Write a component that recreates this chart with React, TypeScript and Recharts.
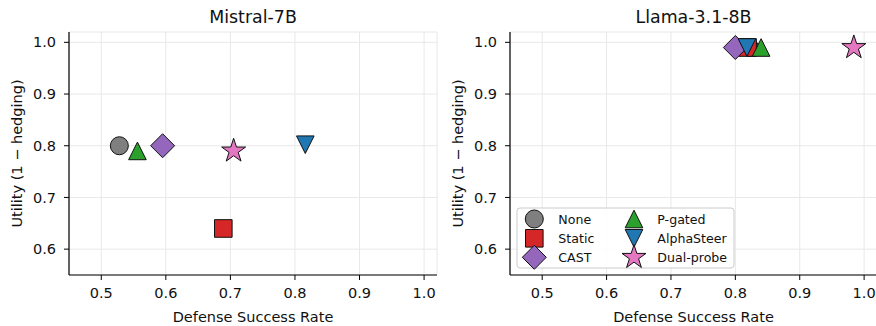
import React from 'react';
import { ScatterChart, Scatter, XAxis, YAxis, CartesianGrid } from 'recharts';

const methods = ['None', 'Static', 'CAST', 'P-gated', 'AlphaSteer', 'Dual-probe'];
const colors = ['#7f7f7f', '#d62728', '#9467bd', '#2ca02c', '#1f77b4', '#e377c2'];
const markers = ['circle', 'square', 'diamond', 'triUp', 'triDown', 'star'];

const mistralDsr = [0.528, 0.689, 0.595, 0.556, 0.816, 0.705];
const mistralUtil = [0.80, 0.64, 0.80, 0.79, 0.802, 0.79];

const llamaDsr = [0.822, 0.819, 0.800, 0.840, 0.818, 0.984];
const llamaUtil = [0.99, 0.99, 0.99, 0.99, 0.99, 0.99];

const xTicks = [0.5, 0.6, 0.7, 0.8, 0.9, 1.0];
const yTicks = [0.6, 0.7, 0.8, 0.9, 1.0];

const FONT = '"DejaVu Sans", sans-serif';

function markerPath(kind: string, cx: number, cy: number) {
  if (kind === 'square') {
    const h = 8.8;
    return `M${cx - h},${cy - h}H${cx + h}V${cy + h}H${cx - h}Z`;
  }
  if (kind === 'diamond') {
    const h = 12;
    return `M${cx},${cy - h}L${cx + h},${cy}L${cx},${cy + h}L${cx - h},${cy}Z`;
  }
  if (kind === 'triUp') {
    const h = 8.8;
    return `M${cx},${cy - h}L${cx + h},${cy + h}L${cx - h},${cy + h}Z`;
  }
  if (kind === 'triDown') {
    const h = 8.8;
    return `M${cx},${cy + h}L${cx + h},${cy - h}L${cx - h},${cy - h}Z`;
  }
  if (kind === 'star') {
    const R = 12.6;
    const r = R * 0.381966;
    let d = '';
    for (let i = 0; i < 10; i++) {
      const rad = i % 2 === 0 ? R : r;
      const a = (-90 + i * 36) * Math.PI / 180;
      d += (i === 0 ? 'M' : 'L') + (cx + rad * Math.cos(a)).toFixed(2) + ',' + (cy + rad * Math.sin(a)).toFixed(2);
    }
    return d + 'Z';
  }
  return '';
}

function Marker({ kind, cx, cy, fill }: { kind: string; cx: number; cy: number; fill: string }) {
  if (kind === 'circle') {
    return <circle cx={cx} cy={cy} r={9} fill={fill} stroke="#111" strokeWidth={1} />;
  }
  return <path d={markerPath(kind, cx, cy)} fill={fill} stroke="#111" strokeWidth={1} strokeLinejoin="miter" />;
}

function Panel({ dsr, util, width, yAxisWidth, labelOffset }: {
  dsr: number[]; util: number[]; width: number; yAxisWidth: number; labelOffset: number;
}) {
  return (
    <ScatterChart width={width} height={326} margin={{ top: 32, right: 1, bottom: 0, left: 0 }}>
      <CartesianGrid stroke="#e8e8e8" strokeWidth={1} />
      <XAxis
        type="number"
        dataKey="x"
        domain={[0.45, 1.02]}
        ticks={xTicks}
        allowDataOverflow
        tickFormatter={(v: number) => v.toFixed(1)}
        tick={{ fontSize: 14.5, fill: '#111', fontFamily: FONT }}
        axisLine={{ stroke: '#000', strokeWidth: 1.2 }}
        tickLine={{ stroke: '#000' }}
        tickSize={5}
        tickMargin={8}
        height={51}
        label={{ value: 'Defense Success Rate', position: 'insideBottom', offset: 4, style: { fontSize: 14.5, fill: '#111', fontFamily: FONT } }}
      />
      <YAxis
        type="number"
        dataKey="y"
        domain={[0.55, 1.02]}
        ticks={yTicks}
        allowDataOverflow
        tickFormatter={(v: number) => v.toFixed(1)}
        tick={{ fontSize: 14.5, fill: '#111', fontFamily: FONT }}
        axisLine={{ stroke: '#000', strokeWidth: 1.2 }}
        tickLine={{ stroke: '#000' }}
        tickSize={5}
        tickMargin={8}
        width={yAxisWidth}
        label={{ value: 'Utility (1 \u2212 hedging)', angle: -90, position: 'insideLeft', offset: labelOffset, style: { fontSize: 14.5, fill: '#111', fontFamily: FONT, textAnchor: 'middle' } }}
      />
      {methods.map((m, i) => (
        <Scatter
          key={m}
          name={m}
          data={[{ x: dsr[i], y: util[i] }]}
          isAnimationActive={false}
          shape={(p: any) => <Marker kind={markers[i]} cx={p.cx} cy={p.cy} fill={colors[i]} />}
        />
      ))}
    </ScatterChart>
  );
}

function Overlay() {
  const col1 = methods.slice(0, 3);
  const col2 = methods.slice(3);
  const rows = [219, 238.3, 257.3];
  return (
    <svg width={876} height={326} style={{ position: 'absolute', left: 0, top: 0, pointerEvents: 'none' }}>
      <text x={253} y={22.5} textAnchor="middle" fontSize={17.4} fontFamily={FONT} fill="#111">Mistral-7B</text>
      <text x={693.5} y={22.5} textAnchor="middle" fontSize={17.4} fontFamily={FONT} fill="#111">Llama-3.1-8B</text>
      <rect x={517} y={208} width={217} height={60} rx={3} fill="#fff" fillOpacity={0.85} stroke="#cccccc" strokeWidth={1} />
      {col1.map((m, j) => (
        <g key={m}>
          <Marker kind={markers[j]} cx={534.3} cy={rows[j]} fill={colors[j]} />
          <text x={558.3} y={rows[j] + 4.5} fontSize={12.6} fontFamily={FONT} fill="#111">{m}</text>
        </g>
      ))}
      {col2.map((m, j) => (
        <g key={m}>
          <Marker kind={markers[j + 3]} cx={634} cy={rows[j]} fill={colors[j + 3]} />
          <text x={657.3} y={rows[j] + 4.5} fontSize={12.6} fontFamily={FONT} fill="#111">{m}</text>
        </g>
      ))}
    </svg>
  );
}

export default function App() {
  return (
    <div style={{ position: 'absolute', left: 0, top: 0, width: 876, height: 326, overflow: 'hidden', background: '#fff' }}>
      <div style={{ position: 'absolute', left: 0, top: 0 }}>
        <Panel dsr={mistralDsr} util={mistralUtil} width={438} yAxisWidth={69} labelOffset={17} />
      </div>
      <div style={{ position: 'absolute', left: 438, top: 0 }}>
        <Panel dsr={llamaDsr} util={llamaUtil} width={440} yAxisWidth={72} labelOffset={20} />
      </div>
      <Overlay />
    </div>
  );
}
